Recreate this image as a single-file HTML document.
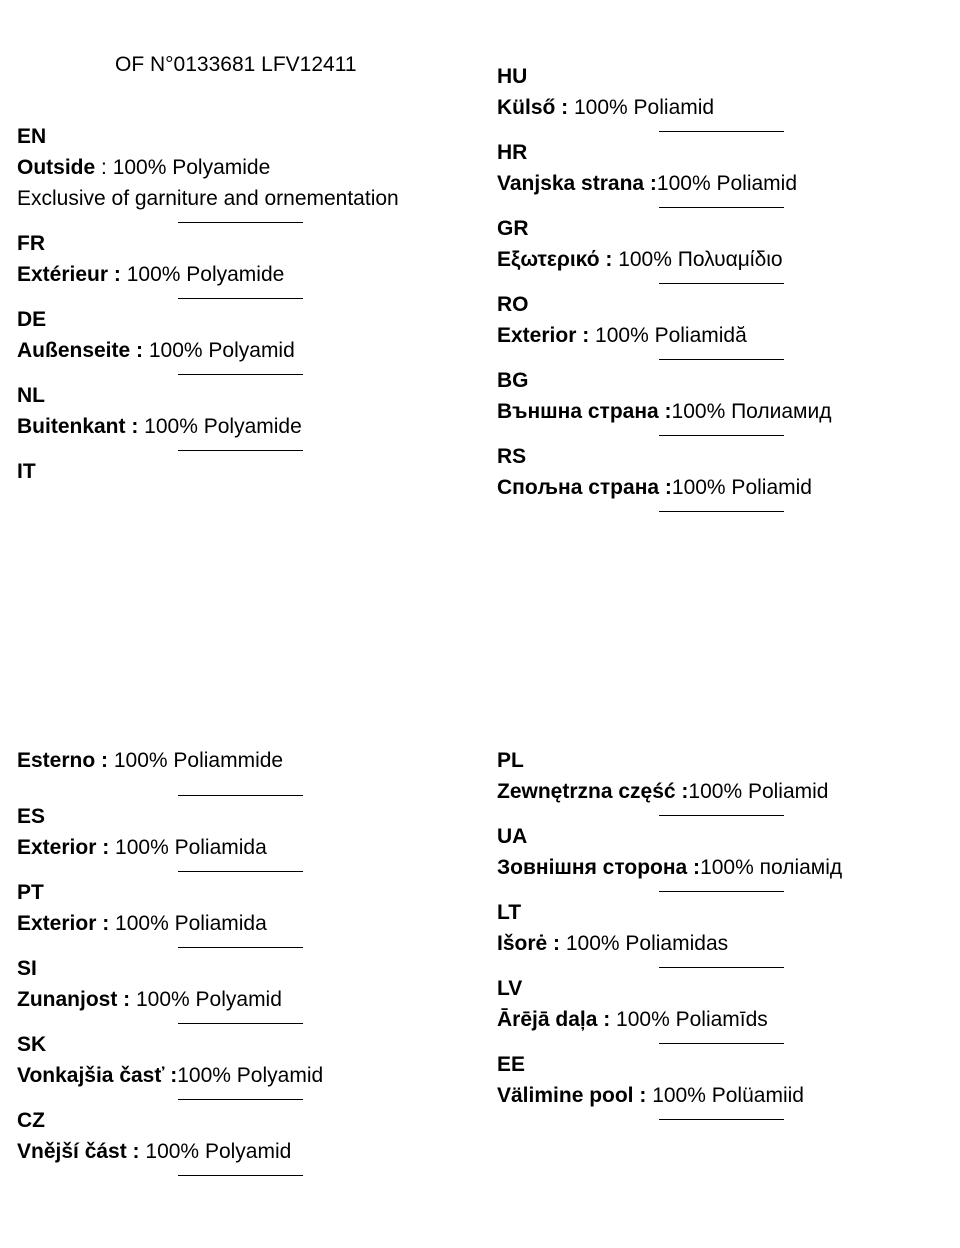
<!DOCTYPE html>
<html><head><meta charset="utf-8"><style>
body{margin:0;width:960px;height:1248px;background:#fff;position:relative;font-family:"Liberation Sans","DejaVu Sans",sans-serif;font-size:21px;color:#000;overflow:hidden}
.t{position:absolute;line-height:24px;white-space:nowrap;margin-top:0px}
.l{left:17px}.r{left:497px}
b{font-weight:bold}
.h{position:absolute;height:1px;width:125px;background:#000}
.hl{left:178px}.hr{left:659px}
</style></head><body>
<div class="t" style="left:115px;top:53px">OF N°0133681 LFV12411</div>

<div class="t l" style="top:125px"><b>EN</b></div>
<div class="t l" style="top:156px"><b>Outside</b> : 100% Polyamide</div>
<div class="t l" style="top:187px">Exclusive of garniture and ornementation</div>
<div class="h hl" style="top:222px"></div>
<div class="t l" style="top:232px"><b>FR</b></div>
<div class="t l" style="top:263px"><b>Extérieur :</b> 100% Polyamide</div>
<div class="h hl" style="top:298px"></div>
<div class="t l" style="top:308px"><b>DE</b></div>
<div class="t l" style="top:339px"><b>Außenseite :</b> 100% Polyamid</div>
<div class="h hl" style="top:374px"></div>
<div class="t l" style="top:384px"><b>NL</b></div>
<div class="t l" style="top:415px"><b>Buitenkant :</b> 100% Polyamide</div>
<div class="h hl" style="top:450px"></div>
<div class="t l" style="top:460px"><b>IT</b></div>

<div class="t r" style="top:65px"><b>HU</b></div>
<div class="t r" style="top:96px"><b>Külső :</b> 100% Poliamid</div>
<div class="h hr" style="top:131px"></div>
<div class="t r" style="top:141px"><b>HR</b></div>
<div class="t r" style="top:172px"><b>Vanjska strana :</b>100% Poliamid</div>
<div class="h hr" style="top:207px"></div>
<div class="t r" style="top:217px"><b>GR</b></div>
<div class="t r" style="top:248px"><b>Εξωτερικό :</b> 100% Πολυαμίδιο</div>
<div class="h hr" style="top:283px"></div>
<div class="t r" style="top:293px"><b>RO</b></div>
<div class="t r" style="top:324px"><b>Exterior :</b> 100% Poliamidă</div>
<div class="h hr" style="top:359px"></div>
<div class="t r" style="top:369px"><b>BG</b></div>
<div class="t r" style="top:400px"><b>Външна страна :</b>100% Полиамид</div>
<div class="h hr" style="top:435px"></div>
<div class="t r" style="top:445px"><b>RS</b></div>
<div class="t r" style="top:476px"><b>Спољна страна :</b>100% Poliamid</div>
<div class="h hr" style="top:511px"></div>

<div class="t l" style="top:749px"><b>Esterno :</b> 100% Poliammide</div>
<div class="h hl" style="top:795px"></div>
<div class="t l" style="top:805px"><b>ES</b></div>
<div class="t l" style="top:836px"><b>Exterior :</b> 100% Poliamida</div>
<div class="h hl" style="top:871px"></div>
<div class="t l" style="top:881px"><b>PT</b></div>
<div class="t l" style="top:912px"><b>Exterior :</b> 100% Poliamida</div>
<div class="h hl" style="top:947px"></div>
<div class="t l" style="top:957px"><b>SI</b></div>
<div class="t l" style="top:988px"><b>Zunanjost :</b> 100% Polyamid</div>
<div class="h hl" style="top:1023px"></div>
<div class="t l" style="top:1033px"><b>SK</b></div>
<div class="t l" style="top:1064px"><b>Vonkajšia časť :</b>100% Polyamid</div>
<div class="h hl" style="top:1099px"></div>
<div class="t l" style="top:1109px"><b>CZ</b></div>
<div class="t l" style="top:1140px"><b>Vnější část :</b> 100% Polyamid</div>
<div class="h hl" style="top:1175px"></div>

<div class="t r" style="top:749px"><b>PL</b></div>
<div class="t r" style="top:780px"><b>Zewnętrzna część :</b>100% Poliamid</div>
<div class="h hr" style="top:815px"></div>
<div class="t r" style="top:825px"><b>UA</b></div>
<div class="t r" style="top:856px"><b>Зовнішня сторона :</b>100% поліамід</div>
<div class="h hr" style="top:891px"></div>
<div class="t r" style="top:901px"><b>LT</b></div>
<div class="t r" style="top:932px"><b>Išorė :</b> 100% Poliamidas</div>
<div class="h hr" style="top:967px"></div>
<div class="t r" style="top:977px"><b>LV</b></div>
<div class="t r" style="top:1008px"><b>Ārējā daļa :</b> 100% Poliamīds</div>
<div class="h hr" style="top:1043px"></div>
<div class="t r" style="top:1053px"><b>EE</b></div>
<div class="t r" style="top:1084px"><b>Välimine pool :</b> 100% Polüamiid</div>
<div class="h hr" style="top:1119px"></div>
</body></html>
